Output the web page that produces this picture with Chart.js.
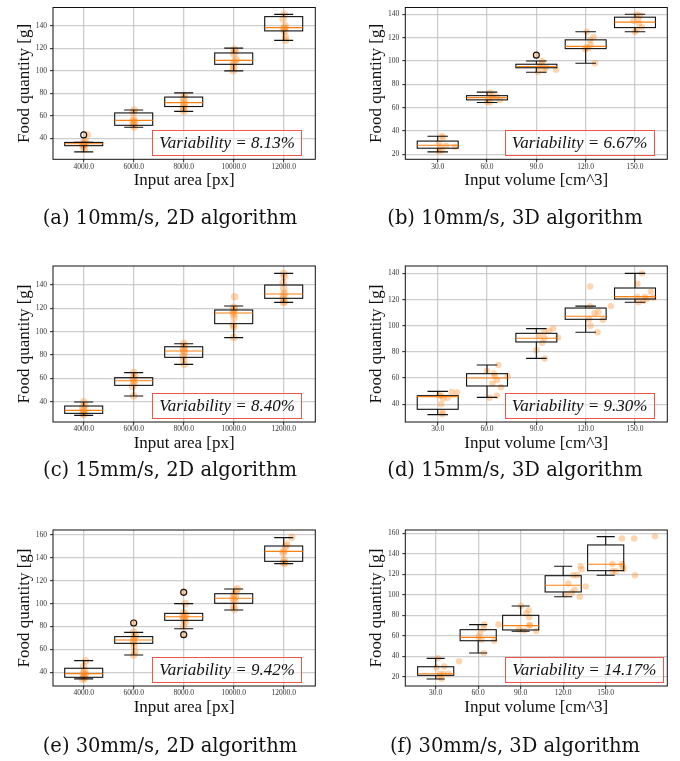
<!DOCTYPE html>
<html><head><meta charset="utf-8">
<script src="https://cdn.jsdelivr.net/npm/chart.js@4/dist/chart.umd.min.js"></script>
<style>
html,body{margin:0;padding:0;background:#fff;}
#fig{position:relative;width:680px;height:761px;overflow:hidden;background:#fff;}
canvas{position:absolute;}
.var{position:absolute;box-sizing:border-box;border:1px solid #f05545;background:rgba(255,255,255,0.5);font:italic 17px "Liberation Serif",serif;color:#111;display:flex;align-items:center;justify-content:center;white-space:nowrap;}
.cap{position:absolute;font:19.5px "DejaVu Serif",serif;color:#111;transform:translate(-50%,-50%);white-space:nowrap;}
</style></head>
<body><div id="fig"></div>
<script>
// ---------- data ----------
const areaLabels = ['4000.0','6000.0','8000.0','10000.0','12000.0'];
const volumeLabels = ['30.0','60.0','90.0','120.0','150.0'];
const xLabelArea = 'Input area [px]';
const xLabelVolume = 'Input volume [cm^3]';
const yLabel = 'Food quantity [g]';

// box stats: [lower whisker, q1, median, q3, upper whisker]
const aBoxes = [[27.9,33.4,35.1,36.3,36.3],[49.8,51.5,55.9,62.5,65.1],[63.9,68.2,71.7,76.6,80.3],[99.9,105.7,109.2,115.8,120.1],[127,135.4,138.3,148.1,150.1]];
const aOutliers = [[1,43]];
const aPoints = [[1.0,36],[1.02,35],[0.98,34],[1.0,33],[1.01,30],[1.07,43],[1.03,37],
  [2.01,65],[1.99,63],[2.0,57],[1.99,55],[2.02,54],[1.99,52],[2.01,50],
  [3.01,78],[3.0,75],[3.0,72],[3.01,70],[3.0,68],[2.99,66],[3.0,64],
  [4.01,119],[4.03,117],[4.0,115],[4.05,110],[4.02,108],[3.99,106],[4.0,103],[3.99,100],
  [5.01,150],[4.99,146],[5.03,140],[5.02,138],[5.0,137],[5.02,135],[5.03,130],[5.04,127]];

const bBoxes = [[22.2,25.3,27.8,31.4,35.6],[64.4,66.7,68.6,70.3,73.3],[90.3,94.2,95.3,97.2,100],[98.1,110.6,112.5,118.1,125],[125,128.6,133.3,137.5,140]];
const bOutliers = [[3,105]];
const bPoints = [[1.08,35.5],[1.11,34.5],[1.03,29.5],[1.05,26],[1.35,26.5],[1.09,23.5],[1.02,22.5],[1.17,27.5],
  [2.06,73],[2.03,68],[2.1,70.5],[2.2,69.5],[2.26,66.5],[2.12,68.5],[2.06,64.5],[2.0,65],
  [3.12,100],[3.11,97.5],[3.07,95.5],[3.2,94.5],[3.4,92.5],[3.03,90.5],[3.15,92],[3.0,105],
  [4.02,125],[4.16,120.5],[4.09,118],[4.1,114],[4.02,112],[3.99,110],[4.05,111],[4.19,98],
  [5.03,140],[5.1,139],[4.97,134.5],[5.07,136],[5.14,129],[5.03,126.5],[5.0,125],[5.08,132]];

const cBoxes = [[28.3,30,32.6,36.3,39.7],[44.9,54,58,60.6,64.9],[72,78,83.4,87.1,89.7],[94.9,106.9,116,118.6,122],[125.1,128.6,132.3,140,150]];
const cOutliers = [];
const cPoints = [[1.0,40],[1.02,37],[0.98,35],[1.0,33],[1.01,31],[0.99,30],[1.0,29],
  [2.0,65],[2.02,62],[1.99,60],[2.0,58],[2.01,56],[1.98,53],[2.0,45],
  [3.0,90],[3.02,88],[2.99,86],[3.0,84],[3.01,82],[2.99,79],[3.0,76],[3.01,72],
  [4.02,130],[4.0,121],[4.01,119],[3.99,117],[4.0,115],[4.01,112],[3.99,106],[4.0,104],[4.0,95],
  [5.0,150],[5.01,147],[4.99,142],[5.0,137],[5.01,133],[5.0,131],[4.99,128],[5.01,126],[5.0,125]];

const dBoxes = [[32.1,36.2,45.9,46.6,49.9],[45.3,54,60.1,63.4,70],[75.1,87.6,90.4,94.2,97.8],[95,104.9,107.2,113.5,115],[117.9,120.4,122.2,128.8,140]];
const dOutliers = [];
const dPoints = [[1.07,46.5],[1.11,44.5],[1.2,45],[1.28,49.5],[1.39,49],[1.07,40],[1.1,34],[1.09,32.5],[1.03,47],
  [2.23,70],[2.0,65.5],[2.42,61.5],[2.16,61.5],[2.2,58.5],[2.11,56],[2.28,53],[2.2,46.5],[2.05,45],[2.14,63.5],
  [3.34,98],[3.26,96],[3.16,95],[3.44,91],[3.05,92.5],[3.16,90.5],[3.12,87],[3.0,81.5],[3.17,75],
  [4.09,130],[4.09,115],[4.51,115],[4.26,110.5],[4.18,109.5],[4.07,105],[4.35,104.5],[4.1,100],[4.24,95],
  [5.14,140],[5.05,132],[5.32,126],[5.05,122],[5.2,122],[5.24,120.5],[5.17,119],[5.07,118],[5.37,121.5]];

const eBoxes = [[34.2,35.6,38.8,43.5,50.2],[55.1,65.3,68.2,71.2,74.9],[78.1,85.4,88.6,91.5,100],[94.5,100.3,104.7,108.7,112.8],[135,137,145.7,150.4,157.7]];
const eOutliers = [[2,83.1],[3,109.9],[3,72.9]];
const ePoints = [[1.04,50],[1.0,45],[1.02,41],[0.99,39],[1.03,38],[1.0,36],[1.02,35],[0.98,34],
  [2.0,75],[2.03,72],[2.02,70],[1.99,68],[2.0,66],[2.01,63],[2.02,58],[2.0,55],[2.0,83],
  [3.03,100],[3.0,92],[3.04,90],[2.98,89],[3.02,88],[3.0,86],[3.03,84],[3.0,80],[3.0,110],[3.0,73],
  [4.07,113],[4.05,111],[4.0,108],[4.03,106],[3.99,104],[4.02,102],[4.0,98],[4.01,95],
  [5.16,158],[5.06,152],[5.04,150],[5.0,146],[4.99,144],[5.01,138],[5.0,136],[5.02,135]];

const fBoxes = [[17.7,21.3,22.9,29.7,37.9],[43.1,55.1,58.4,65.9,70.8],[64.3,65.6,69.8,79.9,89],[98.1,102.7,109.2,118.6,127.8],[119,123.5,129.7,148.6,156.7]];
const fOutliers = [];
const fPoints = [[1.05,38],[1.2,30],[1.02,29],[1.1,23],[1.18,22.5],[1.3,23],[1.14,18],[1.55,35],[1.09,20],
  [2.14,71],[2.48,71],[2.13,67],[2.05,63],[2.08,56],[2.38,55],[2.13,43],[2.01,59],
  [3.01,89],[3.19,85],[3.13,82],[3.2,78],[3.2,70],[3.22,70.5],[3.37,64.5],[3.08,65],[2.96,66],
  [4.41,128],[4.43,125],[4.24,119],[4.33,119],[4.12,111],[4.27,105],[4.53,108],[4.39,98],[4.06,100.5],[4.2,102],
  [5.38,155],[5.67,155],[6.16,157],[5.16,130],[5.38,130],[5.42,125],[5.16,123],[5.24,123],[5.69,119],[5.4,127.5]];

const variability = ['8.13%','6.67%','8.40%','9.30%','9.42%','14.17%'];
const captions = ['(a) 10mm/s, 2D algorithm','(b) 10mm/s, 3D algorithm','(c) 15mm/s, 2D algorithm','(d) 15mm/s, 3D algorithm','(e) 30mm/s, 2D algorithm','(f) 30mm/s, 3D algorithm'];
const yTicksA = [40,60,80,100,120,140];
const yTicksB = [20,40,60,80,100,120,140];
const yTicksE = [40,60,80,100,120,140,160];
const yTicksF = [20,40,60,80,100,120,140,160];
const xTickPos = [1,2,3,4,5];

// ---------- drawing ----------
const fig = document.getElementById('fig');
const boxPlugin = {
  id: 'boxplot',
  afterDatasetsDraw(chart, args, opts) {
    const {ctx, chartArea: ca} = chart;
    const xs = chart.scales.x, ys = chart.scales.y;
    const hw = opts.width / 2, cw = opts.cap / 2;
    ctx.save();
    ctx.beginPath(); ctx.rect(ca.left, ca.top, ca.right - ca.left, ca.bottom - ca.top); ctx.clip();
    opts.boxes.forEach((b, i) => {
      const p = i + 1;
      const X = v => xs.getPixelForValue(v), Y = v => ys.getPixelForValue(v);
      ctx.strokeStyle = '#111'; ctx.lineWidth = 1.1;
      ctx.beginPath();
      ctx.moveTo(X(p), Y(b[0])); ctx.lineTo(X(p), Y(b[1]));
      ctx.moveTo(X(p), Y(b[3])); ctx.lineTo(X(p), Y(b[4]));
      ctx.moveTo(X(p - cw), Y(b[0])); ctx.lineTo(X(p + cw), Y(b[0]));
      ctx.moveTo(X(p - cw), Y(b[4])); ctx.lineTo(X(p + cw), Y(b[4]));
      ctx.stroke();
      ctx.strokeRect(X(p - hw), Y(b[3]), X(p + hw) - X(p - hw), Y(b[1]) - Y(b[3]));
      ctx.strokeStyle = '#ff7f0e'; ctx.lineWidth = 1.1;
      ctx.beginPath(); ctx.moveTo(X(p - hw), Y(b[2])); ctx.lineTo(X(p + hw), Y(b[2])); ctx.stroke();
    });
    ctx.strokeStyle = '#111'; ctx.lineWidth = 1.1;
    opts.outliers.forEach(o => {
      ctx.beginPath(); ctx.arc(xs.getPixelForValue(o[0]), ys.getPixelForValue(o[1]), 3, 0, Math.PI * 2); ctx.stroke();
    });
    ctx.restore();
    ctx.save();
    ctx.strokeStyle = '#111'; ctx.lineWidth = 1;
    ctx.strokeRect(ca.left, ca.top, ca.right - ca.left, ca.bottom - ca.top);
    ctx.restore();
  }
};

const tickFont = {family: '"Liberation Serif", serif', size: 7.5};
const titleFont = {family: '"Liberation Serif", serif', size: 17};

function panel(p) {
  const W = 340;
  const c = document.createElement('canvas');
  c.width = W; c.height = p.H;
  c.style.left = p.left + 'px'; c.style.top = p.top + 'px';
  c.style.width = W + 'px'; c.style.height = p.H + 'px';
  fig.appendChild(c);
  const lh = titleFont.size * 1.2;
  new Chart(c, {
    type: 'scatter',
    data: {datasets: [{data: p.points.map(([x, y]) => ({x, y})), backgroundColor: 'rgba(255,127,14,0.33)', borderWidth: 0, pointRadius: p.r, pointHoverRadius: p.r}]},
    options: {
      responsive: false, animation: false, devicePixelRatio: 1,
      events: [],
      layout: {padding: {left: 0, top: p.CT, right: W - p.R, bottom: 0}},
      plugins: {legend: {display: false}, tooltip: {enabled: false},
        boxplot: {boxes: p.boxes, outliers: p.outliers, width: p.bw, cap: p.bw / 2}},
      scales: {
        x: {type: 'linear', min: p.xmin, max: p.xmax,
          afterBuildTicks: s => { s.ticks = xTickPos.map(v => ({value: v})); },
          afterFit: s => { s.height = p.H - p.CB; },
          ticks: {callback: (v, i) => p.xlabels[i], font: tickFont, color: '#333', padding: 0, maxRotation: 0, autoSkip: false},
          grid: {color: 'rgba(190,190,190,0.75)', lineWidth: 1.3, tickLength: 3, tickColor: '#222', tickWidth: 1},
          border: {display: false},
          title: {display: true, text: p.xtitle, font: titleFont, color: '#111', padding: {top: 0, bottom: p.H - lh / 2 - p.xtc}}},
        y: {type: 'linear', min: p.ymin, max: p.ymax,
          afterBuildTicks: s => { s.ticks = p.yticks.map(v => ({value: v})); },
          afterFit: s => { s.width = p.L; },
          ticks: {callback: v => String(v), font: tickFont, color: '#333', padding: 3},
          grid: {color: 'rgba(190,190,190,0.75)', lineWidth: 1.3, tickLength: 3, tickColor: '#222', tickWidth: 1},
          border: {display: false},
          title: {display: true, text: yLabel, font: titleFont, color: '#111', padding: {top: p.ytc - lh / 2, bottom: 0}}}
      }
    },
    plugins: [boxPlugin]
  });
  const v = document.createElement('div');
  v.className = 'var';
  v.style.left = p.vb[0] + 'px'; v.style.top = p.vb[1] + 'px';
  v.style.width = p.vb[2] + 'px'; v.style.height = p.vb[3] + 'px';
  v.textContent = 'Variability = ' + p.variability;
  fig.appendChild(v);
  const cap = document.createElement('div');
  cap.className = 'cap';
  cap.style.left = p.cap[0] + 'px'; cap.style.top = p.cap[1] + 'px';
  cap.textContent = p.caption;
  fig.appendChild(cap);
}

panel({left: 0, top: 0, H: 215, CT: 3.3, CB: 159.3, L: 53, R: 315.3, xtc: 181, ytc: 25, xmin: 0.386, xmax: 5.632, ymin: 21.3, ymax: 156.2, yticks: yTicksA, xlabels: areaLabels, xtitle: xLabelArea, boxes: aBoxes, outliers: aOutliers, points: aPoints, bw: 0.76, r: 3.8, vb: [152.3, 130, 149.7, 26.3], variability: variability[0], cap: [170, 217], caption: captions[0]});
panel({left: 340, top: 0, H: 215, CT: 3.3, CB: 159.3, L: 65.3, R: 327.3, xtc: 181, ytc: 36.7, xmin: 0.343, xmax: 5.655, ymin: 15.8, ymax: 145.8, yticks: yTicksB, xlabels: volumeLabels, xtitle: xLabelVolume, boxes: bBoxes, outliers: bOutliers, points: bPoints, bw: 0.83, r: 3.2, vb: [504.7, 130, 150, 26.3], variability: variability[1], cap: [515, 217], caption: captions[1]});
panel({left: 0, top: 250, H: 215, CT: 16, CB: 172, L: 53, R: 315.3, xtc: 194, ytc: 25, xmin: 0.386, xmax: 5.632, ymin: 22.6, ymax: 156.3, yticks: yTicksA, xlabels: areaLabels, xtitle: xLabelArea, boxes: cBoxes, outliers: cOutliers, points: cPoints, bw: 0.76, r: 3.8, vb: [152.3, 393.3, 149.7, 26], variability: variability[2], cap: [170, 469], caption: captions[2]});
panel({left: 340, top: 250, H: 215, CT: 16, CB: 172, L: 65.3, R: 327.3, xtc: 194, ytc: 36.7, xmin: 0.343, xmax: 5.655, ymin: 26.5, ymax: 145.6, yticks: yTicksA, xlabels: volumeLabels, xtitle: xLabelVolume, boxes: dBoxes, outliers: dOutliers, points: dPoints, bw: 0.83, r: 3.2, vb: [504.7, 393.3, 150, 26], variability: variability[3], cap: [515, 469], caption: captions[3]});
panel({left: 0, top: 500, H: 235, CT: 30, CB: 186, L: 53, R: 315.3, xtc: 208, ytc: 25, xmin: 0.386, xmax: 5.632, ymin: 28, ymax: 164.4, yticks: yTicksE, xlabels: areaLabels, xtitle: xLabelArea, boxes: eBoxes, outliers: eOutliers, points: ePoints, bw: 0.76, r: 3.8, vb: [152.3, 657.3, 149.7, 26], variability: variability[4], cap: [170, 745], caption: captions[4]});
panel({left: 340, top: 500, H: 235, CT: 30, CB: 186, L: 65.3, R: 327.3, xtc: 208, ytc: 36.7, xmin: 0.285, xmax: 6.45, ymin: 10.9, ymax: 163.2, yticks: yTicksF, xlabels: volumeLabels, xtitle: xLabelVolume, boxes: fBoxes, outliers: fOutliers, points: fPoints, bw: 0.85, r: 3.2, vb: [504.7, 657.3, 159.3, 26], variability: variability[5], cap: [515, 745], caption: captions[5]});
</script>
</body></html>
